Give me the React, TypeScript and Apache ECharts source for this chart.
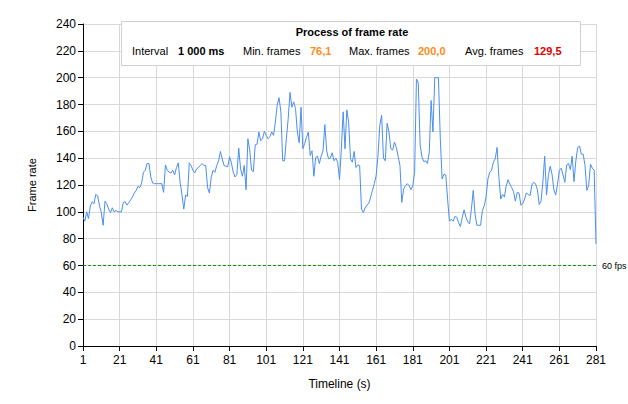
import React, { useEffect, useRef } from "react";
import * as echarts from "echarts";

const segA = [96, 93, 100, 95, 104.5, 107.5, 106, 113, 112, 104.5, 99.5, 90, 108, 106, 102, 99.5, 103, 100, 101, 100, 100, 100, 107, 107.5, 105, 107, 109, 111, 114, 116, 119, 118, 121.5, 129.5, 131, 136, 136, 126, 121.5, 121, 121, 121, 121, 121, 114.5, 135, 131, 129.5];
const segB = [129, 131, 127.5, 133, 136.5, 122, 113, 102, 112.5, 111.5, 136.5, 134.5, 131, 129, 132, 133, 134.5, 136, 134.5, 134.5, 118, 114, 126, 131, 129.5, 134.5, 138, 145, 139.5, 134.5, 134, 133.5, 141, 136.5, 129.5, 126, 128, 147.5, 132, 126.5, 134.5, 116.5, 154.5, 146, 131, 130, 150];
const segC = [150.5, 159.5, 153, 154.5, 160, 157, 154.5, 156, 159.5, 157, 167, 179.5, 185, 174.5, 138, 138, 154.5, 169.5, 189, 178, 182, 177, 159.5, 151.5, 178, 147, 151, 155.5, 159.5, 142, 145.5, 126.5, 140.5, 141.5, 136, 141.5, 145.5, 165, 145.5, 139.5, 140, 144, 138, 140, 137, 124];
const segD = [147, 174.5, 147, 176, 167, 139.5, 137, 145, 133, 135, 134.5, 102, 99.5, 103, 105, 106.5, 111, 116, 121, 127, 142, 164.5, 172, 140, 138, 166, 159.5, 147, 146, 152, 148, 141.5, 134.5, 107, 117, 119.5, 121, 119.5, 116.5, 119.5, 129.5, 199, 196, 150, 141, 137.5, 138, 136, 144.5, 183, 159.5, 200, 200, 200, 155, 124.5, 128, 127.5, 109.5];
const segE = [93, 94.5, 93, 96.5, 96, 92, 89, 96, 101.5, 96, 92.5, 91, 102, 116, 98, 90, 90, 90, 101, 104.5, 111, 124.5, 129.5, 131, 137, 139.5, 148, 125.5, 109.5, 113, 111];
const segF = [119.5, 124, 120.5, 118, 115, 108, 114.5, 114, 105, 106, 109.5, 114, 113, 112, 120, 122, 121, 116.5, 105.5, 108, 122, 141.5, 112.5, 127, 134, 128, 116.5, 112.5, 120.5, 131, 132.5, 127.5, 122, 135, 136, 131.5, 141.5, 122.5, 138, 148, 149, 143, 143, 134.5, 116, 119.5, 135.5, 132.5, 131, 76.1];

const frameRate = [...segA, ...segB, ...segC, ...segD, ...segE, ...segF];
const seconds = frameRate.map((_, i) => String(i + 1));
const targetFps = 60;
const targetLine = seconds.map(() => targetFps);

const titleText = "Process of frame rate";
const statLabels = ["Interval", "Min. frames", "Max. frames", "Avg. frames"];
const statValues = ["1 000 ms", "76,1", "200,0", "129,5"];

export default function App() {
  const ref = useRef<HTMLDivElement>(null);
  useEffect(() => {
    if (!ref.current) return;
    const chart = echarts.init(ref.current, null, { renderer: "svg" });
    const font = "Liberation Sans, Arial, sans-serif";
    const valueColors = ["#000000", "#ff8c1a", "#ff8c1a", "#e00000"];
    const labelX = [132, 243, 349, 465];
    const valueX = [178, 310, 418, 534];
    const graphics: any[] = [
      {
        type: "rect",
        shape: { x: 121.5, y: 21.5, width: 459, height: 44 },
        style: { fill: "#ffffff", stroke: "#d0d0d0", lineWidth: 1 },
        z: 10,
      },
      {
        type: "text",
        x: 352,
        y: 32,
        style: {
          text: titleText,
          font: `bold 11px ${font}`,
          fill: "#000",
          align: "center",
          verticalAlign: "middle",
        },
        z: 11,
      },
    ];
    statLabels.forEach((l, k) => {
      graphics.push({
        type: "text",
        x: labelX[k],
        y: 51,
        style: { text: l, font: `11px ${font}`, fill: "#000", verticalAlign: "middle" },
        z: 11,
      });
      graphics.push({
        type: "text",
        x: valueX[k],
        y: 51,
        style: { text: statValues[k], font: `bold 11px ${font}`, fill: valueColors[k], verticalAlign: "middle" },
        z: 11,
      });
    });
    chart.setOption({
      animation: false,
      grid: { left: 83, right: 32, top: 24, bottom: 58 },
      xAxis: {
        type: "category",
        data: seconds,
        boundaryGap: false,
        name: "Timeline (s)",
        nameLocation: "middle",
        nameGap: 32,
        nameTextStyle: { fontFamily: font, fontSize: 12, color: "#000" },
        axisLine: { lineStyle: { color: "#000", width: 1 } },
        axisTick: { interval: 19, length: 5, lineStyle: { color: "#000" } },
        axisLabel: { interval: 19, fontFamily: font, fontSize: 12, color: "#000", margin: 8 },
        splitLine: { show: true, interval: 19, lineStyle: { color: "#d9d9d9", width: 1 } },
      },
      yAxis: {
        type: "value",
        min: 0,
        max: 240,
        interval: 20,
        name: "Frame rate",
        nameLocation: "middle",
        nameGap: 46,
        nameTextStyle: { fontFamily: font, fontSize: 11, color: "#000" },
        axisLine: { show: true, lineStyle: { color: "#000", width: 1 } },
        axisTick: { show: true, length: 5, lineStyle: { color: "#000" } },
        axisLabel: { fontFamily: font, fontSize: 12, color: "#000", margin: 7 },
        splitLine: { show: true, lineStyle: { color: "#d9d9d9", width: 1 } },
      },
      series: [
        {
          type: "line",
          data: frameRate,
          showSymbol: false,
          symbol: "none",
          lineStyle: { color: "#4a8ef0", width: 1 },
          z: 3,
        },
        {
          type: "line",
          data: targetLine,
          showSymbol: false,
          symbol: "none",
          silent: true,
          color: "#008a00",
          lineStyle: { color: "#008a00", type: [3, 2], width: 1 },
          endLabel: {
            show: true,
            formatter: "60 fps",
            fontFamily: font,
            fontSize: 9,
            color: "#000",
            distance: 6,
          },
          z: 2,
        },
      ],
      graphic: graphics,
    });
    return () => chart.dispose();
  }, []);
  return (
    <div
      ref={ref}
      style={{ position: "absolute", left: 0, top: 0, width: 628, height: 404, background: "#fff" }}
    />
  );
}
